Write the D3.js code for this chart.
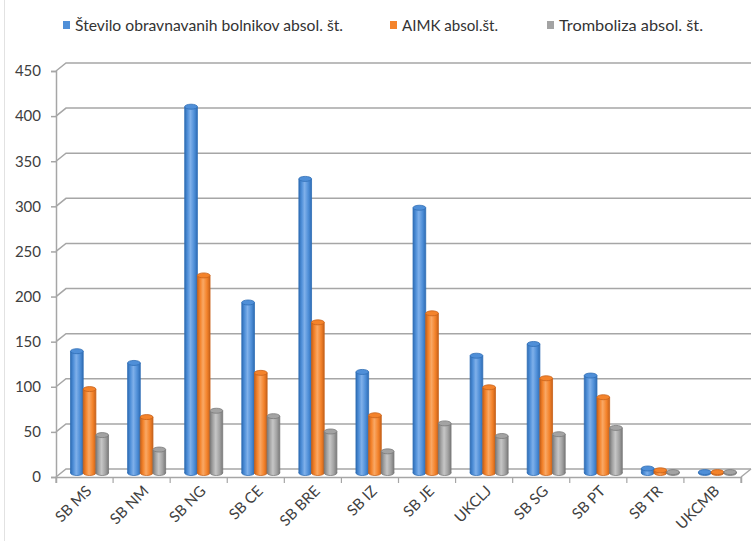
<!DOCTYPE html>
<html>
<head>
<meta charset="utf-8">
<script src="https://cdn.jsdelivr.net/npm/d3@7"></script>
<style>
  html, body { margin: 0; padding: 0; background: #fff; }
  svg { display: block; font-family: Lato, "Open Sans", sans-serif; }
</style>
</head>
<body>
<svg id="chart" width="753" height="541"></svg>
<script>
// Hospitals
const categories = ["SB MS", "SB NM", "SB NG", "SB CE", "SB BRE", "SB IZ", "SB JE", "UKCLJ", "SB SG", "SB PT", "SB TR", "UKCMB"];
// Series names
const seriesNames = ["Število obravnavanih bolnikov absol. št.", "AIMK absol.št.", "Tromboliza absol. št."];
// Number of treated patients
const patients = [135, 122, 406, 189, 326, 112, 294, 130, 143, 108, 5, 1];
// AIMK
const aimk = [93, 62, 219, 111, 167, 64, 177, 95, 105, 84, 3, 1];
// Thrombolysis
const thrombolysis = [42, 26, 69, 63, 46, 24, 55, 41, 43, 50, 1, 1];
// Value axis ticks
const yTicks = [0, 50, 100, 150, 200, 250, 300, 350, 400, 450];

const series = [patients, aimk, thrombolysis];
const colors = [
  { main: "#4f8fd8", light: "#7fb0ea", dark: "#2f6db5" },
  { main: "#f4832b", light: "#f9a865", dark: "#c8621a" },
  { main: "#a3a3a3", light: "#c6c6c6", dark: "#7a7a7a" }
];

const svg = d3.select("#chart");

// Pseudo-3D depth offset between front edge and back wall
const depth = { dx: 10, dy: -8 };

// Front (category axis) geometry
const xFront = d3.scaleBand().domain(categories).range([56, 741]).paddingInner(0).paddingOuter(0);
const yFront = d3.scaleLinear().domain([0, 450]).range([477, 71]);

// Gradient per series for the cylinder shading
const defs = svg.append("defs");
colors.forEach((c, i) => {
  const g = defs.append("linearGradient").attr("id", "cyl" + i).attr("x1", "0%").attr("x2", "100%");
  g.append("stop").attr("offset", "0%").attr("stop-color", c.dark);
  g.append("stop").attr("offset", "22%").attr("stop-color", c.main);
  g.append("stop").attr("offset", "45%").attr("stop-color", c.light);
  g.append("stop").attr("offset", "75%").attr("stop-color", c.main);
  g.append("stop").attr("offset", "100%").attr("stop-color", c.dark);
});

// Chart border on the left
svg.append("line").attr("x1", 4.5).attr("x2", 4.5).attr("y1", 0).attr("y2", 541)
  .attr("stroke", "#e2e2e2").attr("stroke-width", 1);

// Back wall gridlines with diagonal connectors to the front axis
const x0 = xFront.range()[0], x1 = xFront.range()[1];
const grid = svg.append("g");
yTicks.forEach(t => {
  const yf = yFront(t);
  grid.append("path")
    .attr("d", `M${x0},${yf} L${x0 + depth.dx},${yf + depth.dy} L${x1 + depth.dx},${yf + depth.dy}`)
    .attr("fill", "none").attr("stroke", "#a6a6a6").attr("stroke-width", 1.5);
});
// Floor: right diagonal edge
grid.append("line")
  .attr("x1", x1).attr("y1", yFront(0)).attr("x2", x1 + depth.dx).attr("y2", yFront(0) + depth.dy)
  .attr("stroke", "#a6a6a6").attr("stroke-width", 1.5);

// Value axis (front)
const yAxis = d3.axisLeft(yFront).tickValues(yTicks).tickSize(5).tickPadding(10);
const yg = svg.append("g").attr("transform", `translate(${x0},0)`).call(yAxis);
yg.select(".domain").attr("stroke", "#a6a6a6").attr("stroke-width", 1.5);
yg.selectAll(".tick line").attr("stroke", "#a6a6a6").attr("stroke-width", 1.5);
yg.selectAll(".tick text").attr("fill", "#404040").attr("font-size", "15px")
  .attr("font-family", "Lato, 'Open Sans', sans-serif");

// Category axis (front)
const xAxis = d3.axisBottom(xFront).tickSize(6).tickFormat("");
const xg = svg.append("g").attr("transform", `translate(0,${yFront(0)})`).call(xAxis);
xg.select(".domain").attr("stroke", "#a6a6a6").attr("stroke-width", 1.5);
// Tick marks sit on category boundaries
xg.selectAll(".tick").remove();
const bounds = categories.map(c => xFront(c)).concat([x1]);
xg.selectAll("line.bound").data(bounds).join("line").attr("class", "bound")
  .attr("x1", d => d).attr("x2", d => d).attr("y1", 0).attr("y2", 6)
  .attr("stroke", "#a6a6a6").attr("stroke-width", 1.2);

// Category labels rotated 45 degrees
svg.append("g").selectAll("text").data(categories).join("text")
  .attr("transform", d => `translate(${xFront(d) + xFront.bandwidth() / 2 + 8},${yFront(0) + 15}) rotate(-45)`)
  .attr("text-anchor", "end")
  .attr("fill", "#404040")
  .attr("font-size", "15px")
  .attr("font-family", "Lato, 'Open Sans', sans-serif")
  .text(d => d);

// Bars stand at mid-depth of the floor
const mid = { dx: depth.dx / 2, dy: depth.dy / 2 };
const yBar = d3.scaleLinear().domain([0, 450]).range([yFront(0) + mid.dy, yFront(450) + mid.dy]);
const inner = d3.scaleBand().domain([0, 1, 2]).range([0, 38]).padding(0);
const groupOffset = (xFront.bandwidth() - 38) / 2 + mid.dx;
const ry = 2.5;

const bars = svg.append("g");
categories.forEach((cat, ci) => {
  series.forEach((vals, si) => {
    const v = vals[ci];
    const bx = xFront(cat) + groupOffset + inner(si);
    const bw = inner.bandwidth();
    const yTop = yBar(v);
    const yBase = yBar(0);
    const g = bars.append("g");
    // bottom cap
    g.append("ellipse").attr("cx", bx + bw / 2).attr("cy", yBase).attr("rx", bw / 2).attr("ry", ry)
      .attr("fill", `url(#cyl${si})`).attr("stroke", colors[si].dark).attr("stroke-width", 0.8);
    // body
    g.append("rect").attr("x", bx).attr("y", yTop).attr("width", bw).attr("height", Math.max(0, yBase - yTop))
      .attr("fill", `url(#cyl${si})`);
    g.append("line").attr("x1", bx).attr("x2", bx).attr("y1", yTop).attr("y2", yBase)
      .attr("stroke", colors[si].dark).attr("stroke-width", 0.8);
    g.append("line").attr("x1", bx + bw).attr("x2", bx + bw).attr("y1", yTop).attr("y2", yBase)
      .attr("stroke", colors[si].dark).attr("stroke-width", 0.8);
    // top cap
    g.append("ellipse").attr("cx", bx + bw / 2).attr("cy", yTop).attr("rx", bw / 2).attr("ry", ry)
      .attr("fill", colors[si].main).attr("stroke", colors[si].dark).attr("stroke-width", 0.8);
  });
});

// Legend
const legendX = [63, 390, 547];
const legendW = [268, 96, 144];
const legend = svg.append("g");
seriesNames.forEach((name, i) => {
  legend.append("rect").attr("x", legendX[i]).attr("y", 21).attr("width", 7).attr("height", 8)
    .attr("fill", colors[i].main);
  legend.append("text").attr("x", legendX[i] + 12).attr("y", 31)
    .attr("fill", "#333").attr("font-size", "15px")
    .attr("font-family", "Lato, 'Open Sans', sans-serif")
    .attr("textLength", legendW[i]).attr("lengthAdjust", "spacingAndGlyphs")
    .text(name);
});
</script>
</body>
</html>
